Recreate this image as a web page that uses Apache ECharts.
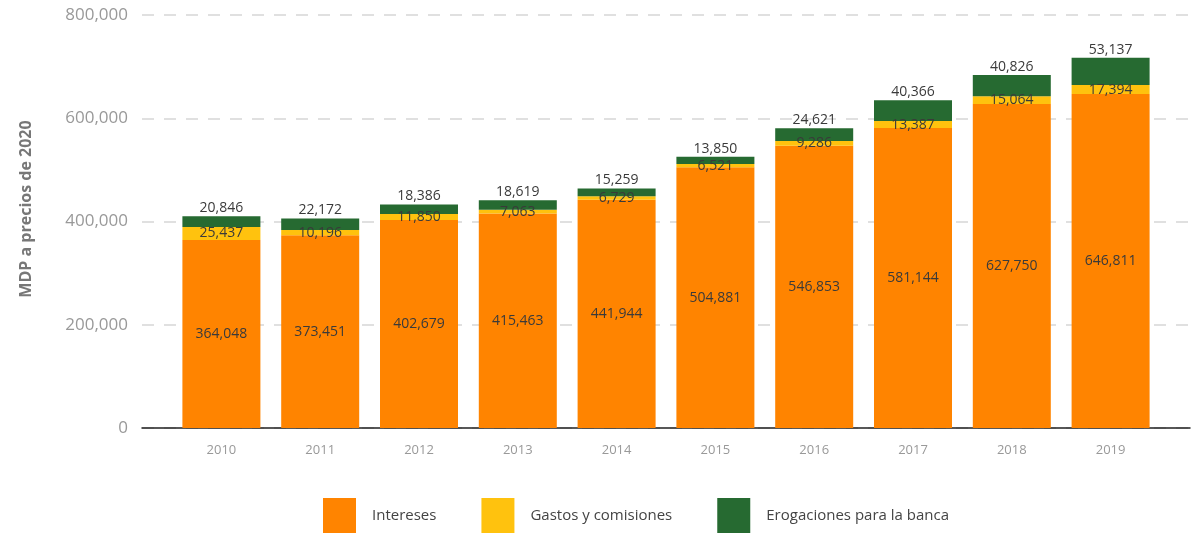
<!DOCTYPE html>
<html>
<head>
<meta charset="utf-8">
<script src="https://cdn.jsdelivr.net/npm/echarts@6/dist/echarts.min.js"></script>
<style>
  html, body { margin: 0; padding: 0; background: #fff; }
  #chart { width: 1192px; height: 533px; }
</style>
</head>
<body>
<div id="chart"></div>
<script>
// datos del gráfico (MDP a precios de 2020)
var years = ['2010', '2011', '2012', '2013', '2014', '2015', '2016', '2017', '2018', '2019']
var intereses = [364048, 373451, 402679, 415463, 441944, 504881, 546853, 581144, 627750, 646811]
var gastos = [25437, 10196, 11850, 7063, 6729, 6521, 9286, 13387, 15064, 17394]
var erogaciones = [20846, 22172, 18386, 18619, 15259, 13850, 24621, 40366, 40826, 53137]
var yTicks = [0, 200000, 400000, 600000, 800000]

var fmt = function (v) { return Number(v).toLocaleString('en-US') }
var labelFont = { fontFamily: 'Open Sans', fontSize: 14, color: '#3a3a3a' }

var chart = echarts.init(document.getElementById('chart'))
chart.setOption({
  animation: false,
  textStyle: { fontFamily: 'Open Sans' },
  // grid 0: solo fondo (líneas guía y eje), grid 1: las barras
  grid: [
    { left: 142, right: 2, top: 15, bottom: 105 },
    { left: 172, right: 32, top: 15, bottom: 105 }
  ],
  legend: {
    left: 323,
    top: 498,
    padding: 0,
    itemWidth: 33,
    itemHeight: 36,
    itemGap: 45,
    icon: 'rect',
    textStyle: { fontFamily: 'Open Sans', fontSize: 15, color: '#444', padding: [0, 0, 0, 11] },
    data: ['Intereses', 'Gastos y comisiones', 'Erogaciones para la banca']
  },
  xAxis: [
    {
      gridIndex: 0, type: 'value', min: 0, max: 1,
      axisLine: { show: true, onZero: false, lineStyle: { color: '#222', width: 1.5 } },
      axisTick: { show: false }, axisLabel: { show: false }, splitLine: { show: false }
    },
    {
      gridIndex: 1, type: 'category', data: years,
      axisLine: { show: false }, axisTick: { show: false },
      axisLabel: { color: '#999', fontSize: 13, margin: 16 }
    }
  ],
  yAxis: [
    {
      gridIndex: 0, type: 'value', min: yTicks[0], max: yTicks[yTicks.length - 1], interval: 200000,
      name: 'MDP a precios de 2020',
      nameLocation: 'middle',
      nameRotate: 90,
      nameGap: 108,
      nameTextStyle: { color: '#777', fontSize: 16, fontWeight: 'bold', padding: [0, 0, 0, 25] },
      axisLine: { show: false }, axisTick: { show: false },
      axisLabel: { color: '#999', fontSize: 17, margin: 14, formatter: fmt },
      splitLine: { lineStyle: { color: '#d6d6d6', type: [12, 10], width: 1.5 } }
    },
    {
      gridIndex: 1, type: 'value', min: yTicks[0], max: yTicks[yTicks.length - 1], show: false
    }
  ],
  series: [
    {
      name: 'Intereses', type: 'bar', stack: 'total', xAxisIndex: 1, yAxisIndex: 1,
      barWidth: 78, data: intereses,
      itemStyle: { color: '#ff8400' },
      label: Object.assign({ show: true, position: 'inside', formatter: function (p) { return fmt(p.value) } }, labelFont)
    },
    {
      name: 'Gastos y comisiones', type: 'bar', stack: 'total', xAxisIndex: 1, yAxisIndex: 1,
      barWidth: 78, data: gastos,
      itemStyle: { color: '#ffc20e' },
      label: Object.assign({ show: true, position: 'inside', formatter: function (p) { return fmt(p.value) } }, labelFont)
    },
    {
      name: 'Erogaciones para la banca', type: 'bar', stack: 'total', xAxisIndex: 1, yAxisIndex: 1,
      barWidth: 78, data: erogaciones,
      itemStyle: { color: '#266a31' },
      label: Object.assign({ show: true, position: 'top', distance: 1, formatter: function (p) { return fmt(p.value) } }, labelFont)
    }
  ]
})
</script>
</body>
</html>
